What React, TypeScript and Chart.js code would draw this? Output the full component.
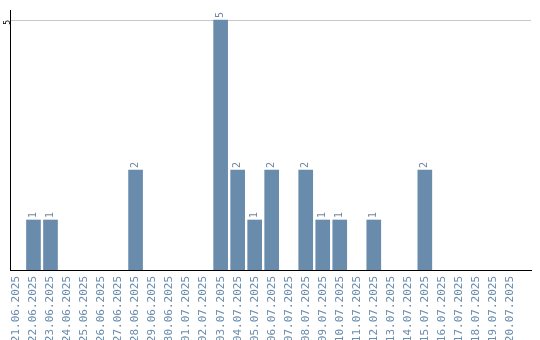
import React, { useEffect, useRef } from "react";
import { Chart, registerables } from "chart.js";

Chart.register(...registerables);

const dates = [
  "21.06.2025", "22.06.2025", "23.06.2025", "24.06.2025", "25.06.2025", "26.06.2025",
  "27.06.2025", "28.06.2025", "29.06.2025", "30.06.2025", "01.07.2025", "02.07.2025",
  "03.07.2025", "04.07.2025", "05.07.2025", "06.07.2025", "07.07.2025", "08.07.2025",
  "09.07.2025", "10.07.2025", "11.07.2025", "12.07.2025", "13.07.2025", "14.07.2025",
  "15.07.2025", "16.07.2025", "17.07.2025", "18.07.2025", "19.07.2025", "20.07.2025",
];
const counts = [0, 1, 1, 0, 0, 0, 0, 2, 0, 0, 0, 0, 5, 2, 1, 2, 0, 2, 1, 1, 0, 1, 0, 0, 2, 0, 0, 0, 0, 0];
const yTicks = [5];

const BAR = "#6a8cac";
const LABEL = "#6a8cad";

const valueLabels = {
  id: "valueLabels",
  afterDatasetsDraw(chart: any) {
    const ctx = chart.ctx;
    const meta = chart.getDatasetMeta(0);
    ctx.save();
    ctx.font = "10px 'DejaVu Sans Mono'";
    ctx.fillStyle = "#75869a";
    ctx.textAlign = "left";
    ctx.textBaseline = "middle";
    meta.data.forEach((bar: any, i: number) => {
      const v = counts[i];
      if (!v) return;
      ctx.save();
      ctx.translate(bar.x, bar.y - 2);
      ctx.rotate(-Math.PI / 2);
      ctx.fillText(String(v), 0, 0);
      ctx.restore();
    });
    ctx.restore();
  },
};

export default function App() {
  const ref = useRef<HTMLCanvasElement>(null);
  useEffect(() => {
    document.body.style.margin = "0";
    const chart = new Chart(ref.current!, {
      type: "bar",
      data: {
        datasets: [
          {
            data: counts.map((v, i) => ({ x: i, y: v === 0 ? null : v })),
            backgroundColor: BAR,
            barThickness: 14,
          },
        ],
      },
      options: {
        responsive: false,
        animation: false,
        layout: { padding: { top: 10, right: 9, left: 0, bottom: 0 } },
        plugins: { legend: { display: false }, tooltip: { enabled: false } },
        scales: {
          x: {
            type: "linear",
            offset: false,
            min: -0.38,
            max: 30.24,
            afterBuildTicks: (s: any) => {
              s.ticks = dates.map((_, i) => ({ value: i }));
            },
            afterFit: (s: any) => {
              s.height = 70;
            },
            grid: { display: false, drawTicks: false, offset: false },
            border: { display: true, color: "#000", width: 1 },
            ticks: {
              autoSkip: false,
              minRotation: 90,
              maxRotation: 90,
              padding: 6,
              color: LABEL,
              font: { family: "'DejaVu Sans Mono'", size: 11 },
              callback: (v: any) => dates[v] ?? "",
            },
          },
          y: {
            min: 0,
            max: 5.2,
            afterBuildTicks: (s: any) => {
              s.ticks = yTicks.map((v) => ({ value: v }));
            },
            afterFit: (s: any) => {
              s.width = 10;
            },
            grid: { color: "#c8c8c8", drawTicks: false },
            border: { display: true, color: "#000", width: 1 },
            ticks: {
              minRotation: 90,
              maxRotation: 90,
              padding: 2,
              color: "#000",
              font: { family: "'DejaVu Sans Mono'", size: 8 },
            },
          },
        },
      },
      plugins: [valueLabels],
    });
    return () => chart.destroy();
  }, []);
  return <canvas ref={ref} width={540} height={340} style={{ display: "block" }} />;
}
